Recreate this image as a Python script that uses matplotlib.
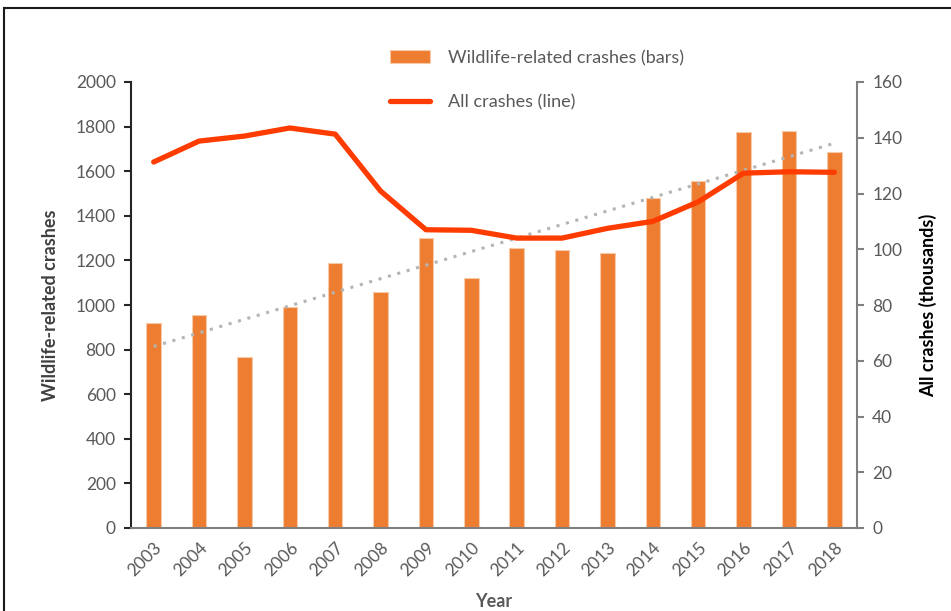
"""Wildlife-related crashes (bars) vs all crashes (line), 2003-2018."""

import numpy as np
import matplotlib
matplotlib.use("Agg")
import matplotlib.pyplot as plt
from matplotlib.patches import Rectangle

years = [str(y) for y in range(2003, 2019)]
wildlife_crashes = [920, 955, 765, 993, 1188, 1060, 1300, 1120,
                    1257, 1247, 1235, 1478, 1555, 1778, 1782, 1685]
all_crashes_k = [131.3, 138.8, 140.6, 143.5, 141.3, 120.9, 107.0, 106.8,
                 104.0, 104.0, 107.5, 110.0, 117.0, 127.3, 127.8, 127.6]

BAR_COLOR = "#ED7D31"
LINE_COLOR = "#FF3C00"
TEXT_GRAY = "#595959"

plt.rcParams["font.family"] = ["Lato", "DejaVu Sans"]

fig = plt.figure(figsize=(9.51, 6.11), dpi=100)
ax = fig.add_axes([131 / 951, 1 - 528 / 611, (857 - 131) / 951, (528 - 82) / 611])
ax2 = ax.twinx()

x = np.arange(len(years))
bars = ax.bar(x, wildlife_crashes, width=0.32, color=BAR_COLOR,
              edgecolor="#F8C9A6", linewidth=0.8,
              label="Wildlife-related crashes (bars)", zorder=2)

# linear trend of the bar series
slope, intercept = np.polyfit(x, wildlife_crashes, 1)
ax.plot(x, slope * x + intercept, linestyle=(0, (1, 2.2)), color="#B4B4B4",
        linewidth=2.2, zorder=3)

line, = ax2.plot(x, all_crashes_k, color=LINE_COLOR, linewidth=3.8,
                 solid_capstyle="round", solid_joinstyle="round",
                 label="All crashes (line)", zorder=4)

ax.set_xlim(-0.5, len(years) - 0.5)
ax.set_ylim(0, 2000)
ax.set_yticks(range(0, 2001, 200))
ax2.set_ylim(0, 160)
ax2.set_yticks(range(0, 161, 20))

ax.set_xticks(x)
ax.set_xticklabels(years, rotation=45, ha="right", rotation_mode="anchor")

ax.spines["top"].set_visible(False)
ax2.spines["top"].set_visible(False)
ax2.spines["left"].set_visible(False)
ax2.spines["bottom"].set_visible(False)
ax.spines["right"].set_visible(False)
ax.spines["left"].set_color("#262626")
ax.spines["left"].set_linewidth(1.5)
ax.spines["bottom"].set_color("#7F7F7F")
ax.spines["bottom"].set_linewidth(1.5)
ax2.spines["right"].set_color("#7F7F7F")
ax2.spines["right"].set_linewidth(1.5)

ax.tick_params(axis="y", length=5, width=1.5, color="#262626",
               labelsize=12.5, labelcolor=TEXT_GRAY, pad=6)
ax.tick_params(axis="x", length=0, labelsize=12.5, labelcolor=TEXT_GRAY, pad=8)
ax2.tick_params(axis="y", length=5, width=1.5, color="#7F7F7F",
                labelsize=12.5, labelcolor=TEXT_GRAY, pad=6)

ax.set_ylabel("Wildlife-related crashes", fontsize=13, fontweight="bold",
              color="#404040", labelpad=12)
ax2.set_ylabel("All crashes (thousands)", fontsize=13, fontweight="bold",
               color="black", labelpad=12)
ax.set_xlabel("Year", fontsize=13, fontweight="bold", color=TEXT_GRAY,
              labelpad=10)

fig.legend(handles=[bars, line], loc="center", bbox_to_anchor=(0.565, 1 - 80 / 611),
           frameon=False, fontsize=13, labelcolor=TEXT_GRAY,
           handlelength=2.2, handletextpad=1.0, labelspacing=1.55)

# outer frame
fig.patches.append(Rectangle((4 / 951, -0.05), 1.0, 1 - 8 / 611 + 0.05,
                             transform=fig.transFigure, fill=False,
                             edgecolor="#1A1A1A", linewidth=1.5))

fig.savefig("out.png", dpi=100)
